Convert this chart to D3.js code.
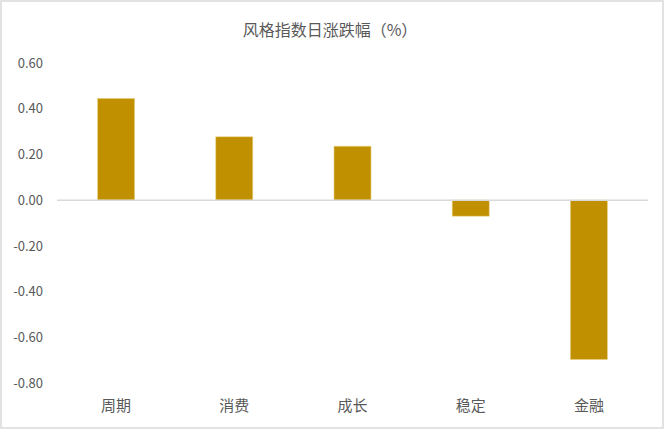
<!doctype html>
<html lang="zh">
<head>
<meta charset="utf-8">
<title>风格指数日涨跌幅</title>
<script src="https://d3js.org/d3.v7.min.js"></script>
<style>
body { margin: 0; background: #fff; }
svg text { font-family: "Noto Sans CJK SC", "Noto Sans", sans-serif; fill: #595959; }
</style>
</head>
<body>
<div id="chart"></div>
<script>
// data
var categories = ["周期", "消费", "成长", "稳定", "金融"];
var values = [0.445, 0.277, 0.236, -0.07, -0.697];
var yTicks = [0.6, 0.4, 0.2, 0, -0.2, -0.4, -0.6, -0.8];

var W = 668, H = 432;
var margin = { top: 63, right: 20, bottom: 49, left: 57 };

var svg = d3.select("#chart").append("svg")
    .attr("width", W)
    .attr("height", H);

// outer frame
svg.append("rect")
    .attr("x", 1).attr("y", 1)
    .attr("width", W - 6).attr("height", H - 5)
    .attr("fill", "#fff")
    .attr("stroke", "#d9d9d9")
    .attr("stroke-width", 1.5);

var x = d3.scaleBand()
    .domain(categories)
    .range([margin.left, 648])
    .paddingInner(0.687)
    .paddingOuter(0.3435);

var y = d3.scaleLinear()
    .domain([-0.8, 0.6])
    .range([383, 63]);

// title
svg.append("text")
    .attr("x", 330)
    .attr("y", 36)
    .attr("text-anchor", "middle")
    .style("font-size", "16px")
    .text("风格指数日涨跌幅（%）");

// y axis labels only, plain hyphen for negatives like the original
var fmt = d3.format(".2f");
var yAxis = d3.axisLeft(y)
    .tickValues(yTicks)
    .tickFormat(function(d) { return fmt(d).replace("\u2212", "-"); })
    .tickSize(0)
    .tickPadding(0);

var gy = svg.append("g")
    .attr("transform", "translate(43,0)")
    .call(yAxis);
gy.select(".domain").remove();
gy.selectAll("text")
    .style("font-size", "13px")
    .attr("fill", "#595959");

// bars
svg.selectAll(".bar")
    .data(values)
  .enter().append("rect")
    .attr("class", "bar")
    .attr("x", function(d, i) { return x(categories[i]); })
    .attr("width", x.bandwidth())
    .attr("y", function(d) { return y(Math.max(0, d)); })
    .attr("height", function(d) { return Math.abs(y(d) - y(0)); })
    .attr("fill", "#c09000")
    .attr("stroke", "#e8cf80")
    .attr("stroke-width", 0.6);

// zero line
svg.append("line")
    .attr("x1", margin.left).attr("x2", 648)
    .attr("y1", y(0)).attr("y2", y(0))
    .attr("stroke", "#d9d9d9")
    .attr("stroke-width", 1.5);

// category labels
var xAxis = d3.axisBottom(x).tickSize(0).tickPadding(0);
var gx = svg.append("g")
    .attr("transform", "translate(0,400)")
    .call(xAxis);
gx.select(".domain").remove();
gx.selectAll("text")
    .style("font-size", "15px")
    .attr("fill", "#595959");
</script>
</body>
</html>
